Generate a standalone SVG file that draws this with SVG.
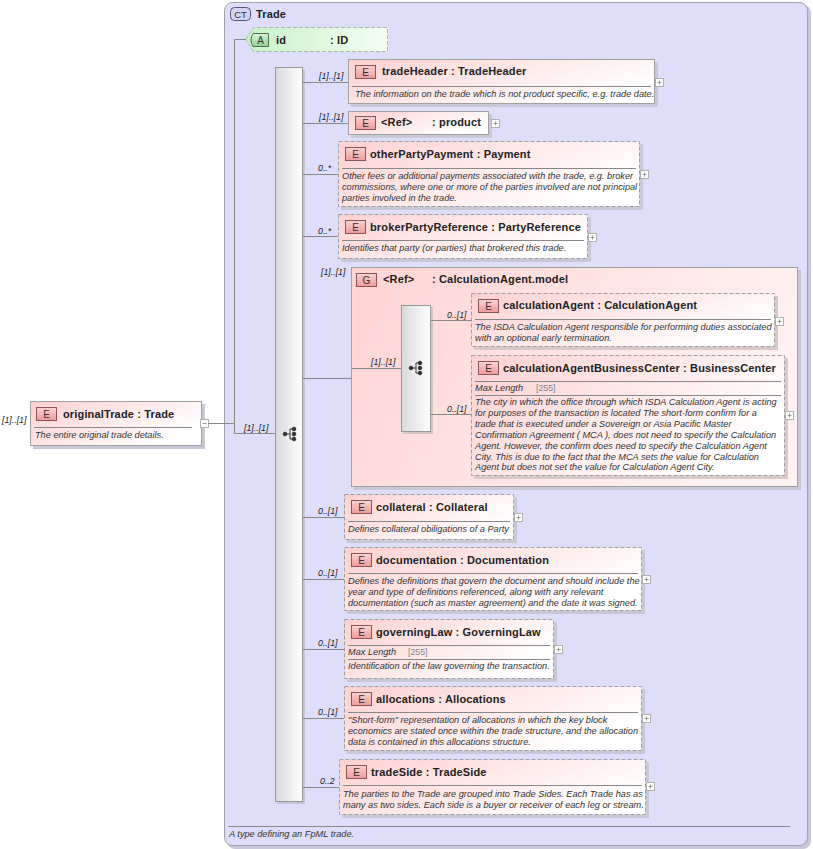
<svg xmlns="http://www.w3.org/2000/svg" width="813" height="849" viewBox="0 0 813 849">
<defs>
<linearGradient id="gEl" x1="0" y1="0" x2="1" y2="0.5"><stop offset="0" stop-color="#fdd0d0"/><stop offset="1" stop-color="#ffffff"/></linearGradient>
<linearGradient id="gGrp" x1="0" y1="0" x2="1" y2="0.3"><stop offset="0" stop-color="#ffd3d3"/><stop offset="1" stop-color="#fff2f2"/></linearGradient>
<linearGradient id="gAttr" x1="0" y1="0" x2="1" y2="0"><stop offset="0" stop-color="#c8f0c8"/><stop offset="1" stop-color="#f4fff4"/></linearGradient>
<linearGradient id="gSeq" x1="0" y1="0" x2="1" y2="0"><stop offset="0" stop-color="#d9d9d9"/><stop offset="1" stop-color="#ffffff"/></linearGradient>
<linearGradient id="gE" x1="0" y1="0" x2="0" y2="1"><stop offset="0" stop-color="#fbd3d3"/><stop offset="1" stop-color="#ee9a9a"/></linearGradient>
<linearGradient id="gA" x1="0" y1="0" x2="0" y2="1"><stop offset="0" stop-color="#d8f5d8"/><stop offset="1" stop-color="#8fd08f"/></linearGradient>
<g id="seqIcon" fill="#333" stroke="#333" stroke-width="1">
<circle cx="-5" cy="0" r="1.8"/><line x1="-5" y1="0" x2="0" y2="0"/><line x1="0" y1="-5" x2="0" y2="5"/>
<line x1="0" y1="-5" x2="4" y2="-5"/><line x1="0" y1="5" x2="4" y2="5"/>
<circle cx="4" cy="-5" r="1.8"/><circle cx="4" cy="0" r="1.8"/><circle cx="4" cy="5" r="1.8"/>
</g>
<g id="plus"><rect x="0.5" y="0.5" width="8" height="8" fill="#fff" stroke="#b0b0b0"/><path d="M2.5 4.5h4M4.5 2.5v4" stroke="#999" fill="none"/></g>
<g id="ebadge"><rect x="0.5" y="0.5" width="20" height="13" fill="url(#gE)" stroke="#8a5555"/><text x="10.5" y="11" class="b">E</text></g>
</defs>
<style>
text{font-family:"Liberation Sans",Arial,sans-serif}
.t{font-size:11px;font-weight:bold;fill:#222;letter-spacing:0.15px}
.d{font-size:9.2px;font-style:italic;fill:#333}
.c{font-size:8.8px;font-style:italic;fill:#222}
.m{font-size:8.8px;fill:#888}
.b{font-size:10px;text-anchor:middle;fill:#333}
.box{fill:url(#gEl);stroke:#a0a0a0;stroke-width:1}
.dash{stroke-dasharray:4,2}
.sh{fill:#c8c8d6}
.sep{stroke:#888;stroke-width:1}
.ln{stroke:#888;stroke-width:1;fill:none}
</style>

<g id="ct">
<rect x="227" y="5" width="584" height="844" rx="8" fill="#c8c8d8"/>
<rect x="224.5" y="2.5" width="583" height="843" rx="8" fill="#dedefa" stroke="#a0a0a8"/>
<rect x="230.5" y="7.5" width="20" height="13" rx="4" fill="#d4d4f4" stroke="#55557a"/>
<text x="240.5" y="18" class="b" style="font-size:9.5px">CT</text>
<text x="256" y="18" class="t">Trade</text>
<line x1="228" y1="826.5" x2="790" y2="826.5" class="sep"/>
<text x="229" y="837" class="d">A type defining an FpML trade.</text>
</g>

<g id="seq">
<rect x="277" y="69" width="28" height="735" fill="#c4c4d4"/>
<rect x="275.5" y="67.5" width="27" height="734" fill="url(#gSeq)" stroke="#999"/>
<use href="#seqIcon" x="290" y="434"/>
</g>

<g id="originalTrade">
<rect x="33" y="404" width="172" height="45" class="sh"/>
<rect x="30.5" y="401.5" width="171" height="44" class="box"/>
<use href="#ebadge" x="36" y="407"/>
<text x="63" y="418" class="t">originalTrade : Trade</text>
<line x1="34" y1="427.5" x2="192" y2="427.5" class="sep"/>
<text x="35" y="438" class="d">The entire original trade details.</text>
<rect x="200.5" y="419.5" width="8" height="8" fill="#fff" stroke="#b0b0b0"/><path d="M202.5 423.5h4" stroke="#999"/>
</g>

<g id="attr-id">
<path d="M245.5 39.5L253.5 27.5H387.5V51.5H253.5Z" fill="url(#gAttr)" stroke="#a8b8a8" class="dash"/>
<path d="M253 33.5H268.5V46.5H253Q249 40 253 33.5Z" fill="url(#gA)" stroke="#4f6f4f"/>
<text x="260.5" y="44" class="b">A</text>
<text x="276" y="44" class="t">id</text>
<text x="330" y="44" class="t">: ID</text>
</g>

<g id="tradeHeader">
<rect x="351" y="62" width="307" height="45" class="sh"/>
<rect x="348.5" y="59.5" width="306" height="44" class="box"/>
<use href="#ebadge" x="355" y="65"/>
<text x="382" y="75" class="t">tradeHeader : TradeHeader</text>
<line x1="352" y1="86.5" x2="651" y2="86.5" class="sep"/>
<text x="355" y="97" class="d">The information on the trade which is not product specific, e.g. trade date.</text>
<use href="#plus" x="655" y="78"/>
</g>

<g id="product">
<rect x="351" y="114" width="141" height="24" class="sh"/>
<rect x="348.5" y="111.5" width="140" height="23" class="box"/>
<use href="#ebadge" x="355" y="116"/>
<text x="381" y="126" class="t">&lt;Ref&gt;</text>
<text x="432" y="126" class="t">: product</text>
<use href="#plus" x="491" y="119"/>
</g>

<g id="otherPartyPayment">
<rect x="341" y="144" width="302" height="66" class="sh"/>
<rect x="338.5" y="141.5" width="301" height="65" class="box dash"/>
<use href="#ebadge" x="345" y="147"/>
<text x="370" y="158" class="t">otherPartyPayment : Payment</text>
<line x1="342" y1="168.5" x2="636" y2="168.5" class="sep"/>
<text x="342" y="179" class="d">Other fees or additional payments associated with the trade, e.g. broker</text>
<text x="342" y="190" class="d">commissions, where one or more of the parties involved are not principal</text>
<text x="342" y="201" class="d">parties involved in the trade.</text>
<use href="#plus" x="640" y="170"/>
</g>

<g id="brokerPartyReference">
<rect x="341" y="217" width="250" height="45" class="sh"/>
<rect x="338.5" y="214.5" width="249" height="44" class="box dash"/>
<use href="#ebadge" x="345" y="220"/>
<text x="370" y="231" class="t">brokerPartyReference : PartyReference</text>
<line x1="342" y1="240.5" x2="584" y2="240.5" class="sep"/>
<text x="342" y="251" class="d">Identifies that party (or parties) that brokered this trade.</text>
<use href="#plus" x="588" y="233"/>
</g>

<g id="calculationAgentModel">
<rect x="354" y="270" width="447" height="220" class="sh"/>
<rect x="351.5" y="267.5" width="446" height="219" fill="url(#gGrp)" stroke="#a0a0a0"/>
<rect x="356.5" y="273.5" width="20" height="13" fill="url(#gE)" stroke="#8a5555"/>
<text x="366.5" y="284" class="b">G</text>
<text x="383" y="283" class="t">&lt;Ref&gt;</text>
<text x="432" y="283" class="t">: CalculationAgent.model</text>
<rect x="403" y="307" width="30" height="127" fill="#d4c4c4"/>
<rect x="401.5" y="305.5" width="29" height="126" fill="url(#gSeq)" stroke="#999"/>
<use href="#seqIcon" x="416" y="368"/>
</g>

<g id="calculationAgent">
<rect x="474" y="296" width="304" height="54" fill="#d8c8c8"/>
<rect x="471.5" y="293.5" width="303" height="53" class="box dash"/>
<use href="#ebadge" x="478" y="299"/>
<text x="503" y="309" class="t">calculationAgent : CalculationAgent</text>
<line x1="475" y1="319.5" x2="771" y2="319.5" class="sep"/>
<text x="475" y="330" class="d">The ISDA Calculation Agent responsible for performing duties associated</text>
<text x="475" y="341" class="d">with an optional early termination.</text>
<use href="#plus" x="775" y="317"/>
</g>

<g id="calculationAgentBusinessCenter">
<rect x="474" y="358" width="314" height="121" fill="#d8c8c8"/>
<rect x="471.5" y="355.5" width="313" height="120" class="box dash"/>
<use href="#ebadge" x="478" y="361"/>
<text x="503" y="372" class="t">calculationAgentBusinessCenter : BusinessCenter</text>
<line x1="475" y1="381.5" x2="781" y2="381.5" class="sep"/>
<text x="475" y="391" class="d">Max Length</text>
<text x="536" y="391" class="m">[255]</text>
<line x1="475" y1="395.5" x2="781" y2="395.5" class="sep"/>
<text x="475" y="405" class="d">The city in which the office through which ISDA Calculation Agent is acting</text>
<text x="475" y="416" class="d">for purposes of the transaction is located The short-form confirm for a</text>
<text x="475" y="427" class="d">trade that is executed under a Sovereign or Asia Pacific Master</text>
<text x="475" y="438" class="d">Confirmation Agreement ( MCA ), does not need to specify the Calculation</text>
<text x="475" y="449" class="d">Agent. However, the confirm does need to specify the Calculation Agent</text>
<text x="475" y="460" class="d">City. This is due to the fact that the MCA sets the value for Calculation</text>
<text x="475" y="470" class="d">Agent but does not set the value for Calculation Agent City.</text>
<use href="#plus" x="785" y="411"/>
</g>

<g id="collateral">
<rect x="347" y="497" width="170" height="46" class="sh"/>
<rect x="344.5" y="494.5" width="169" height="45" class="box dash"/>
<use href="#ebadge" x="351" y="500"/>
<text x="376" y="511" class="t">collateral : Collateral</text>
<line x1="348" y1="521.5" x2="510" y2="521.5" class="sep"/>
<text x="348" y="532" class="d">Defines collateral obiligations of a Party</text>
<use href="#plus" x="514" y="513"/>
</g>

<g id="documentation">
<rect x="347" y="550" width="298" height="64" class="sh"/>
<rect x="344.5" y="547.5" width="297" height="63" class="box dash"/>
<use href="#ebadge" x="351" y="553"/>
<text x="376" y="564" class="t">documentation : Documentation</text>
<line x1="348" y1="573.5" x2="638" y2="573.5" class="sep"/>
<text x="348" y="584" class="d">Defines the definitions that govern the document and should include the</text>
<text x="348" y="595" class="d">year and type of definitions referenced, along with any relevant</text>
<text x="348" y="606" class="d">documentation (such as master agreement) and the date it was signed.</text>
<use href="#plus" x="642" y="575"/>
</g>

<g id="governingLaw">
<rect x="347" y="622" width="210" height="60" class="sh"/>
<rect x="344.5" y="619.5" width="209" height="59" class="box dash"/>
<use href="#ebadge" x="351" y="625"/>
<text x="376" y="636" class="t">governingLaw : GoverningLaw</text>
<line x1="348" y1="645.5" x2="550" y2="645.5" class="sep"/>
<text x="348" y="655" class="d">Max Length</text>
<text x="408" y="655" class="m">[255]</text>
<line x1="348" y1="659.5" x2="550" y2="659.5" class="sep"/>
<text x="348" y="669" class="d">Identification of the law governing the transaction.</text>
<use href="#plus" x="554" y="645"/>
</g>

<g id="allocations">
<rect x="347" y="689" width="298" height="65" class="sh"/>
<rect x="344.5" y="686.5" width="297" height="64" class="box dash"/>
<use href="#ebadge" x="351" y="692"/>
<text x="376" y="703" class="t">allocations : Allocations</text>
<line x1="348" y1="712.5" x2="638" y2="712.5" class="sep"/>
<text x="348" y="723" class="d">"Short-form" representation of allocations in which the key block</text>
<text x="348" y="734" class="d">economics are stated once within the trade structure, and the allocation</text>
<text x="348" y="745" class="d">data is contained in this allocations structure.</text>
<use href="#plus" x="642" y="714"/>
</g>

<g id="tradeSide">
<rect x="342" y="762" width="307" height="56" class="sh"/>
<rect x="339.5" y="759.5" width="306" height="55" class="box dash"/>
<use href="#ebadge" x="346" y="765"/>
<text x="371" y="776" class="t">tradeSide : TradeSide</text>
<line x1="343" y1="785.5" x2="642" y2="785.5" class="sep"/>
<text x="343" y="797" class="d">The parties to the Trade are grouped into Trade Sides. Each Trade has as</text>
<text x="343" y="808" class="d">many as two sides. Each side is a buyer or receiver of each leg or stream.</text>
<use href="#plus" x="646" y="782"/>
</g>

<g id="connectors">
<path class="ln" d="M208 423.5H234.5M234.5 39.5V433.5M234.5 39.5H246M234.5 433.5H275"/>
<path class="ln" d="M303 82.5H348M303 123.5H348M303 174.5H338M303 236.5H338M303 378.5H351M303 517.5H344M303 579.5H344M303 649.5H344M303 718.5H344M303 787.5H339"/>
<path class="ln" d="M352 368.5H401M431 320.5H471M431 414.5H471"/>
<text x="2" y="423" class="c">[1]..[1]</text>
<text x="244" y="431" class="c">[1]..[1]</text>
<text x="319" y="79" class="c">[1]..[1]</text>
<text x="319" y="120" class="c">[1]..[1]</text>
<text x="318" y="171" class="c">0..*</text>
<text x="318" y="234" class="c">0..*</text>
<text x="321" y="275" class="c">[1]..[1]</text>
<text x="371" y="365" class="c">[1]..[1]</text>
<text x="447" y="318" class="c">0..[1]</text>
<text x="447" y="412" class="c">0..[1]</text>
<text x="318" y="514" class="c">0..[1]</text>
<text x="318" y="576" class="c">0..[1]</text>
<text x="318" y="646" class="c">0..[1]</text>
<text x="318" y="715" class="c">0..[1]</text>
<text x="320" y="784" class="c">0..2</text>
</g>
</svg>
